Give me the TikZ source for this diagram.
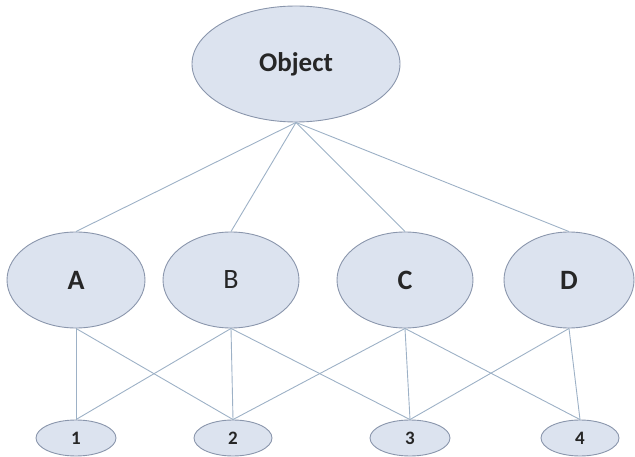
\documentclass[tikz,border=0pt]{standalone}
\usepackage{fontspec}
\setmainfont{Carlito}
\usetikzlibrary{shapes.geometric}
\definecolor{nodefill}{HTML}{DCE3EF}
\definecolor{nodeedge}{HTML}{8A96AC}
\definecolor{linkcol}{HTML}{9DB1C6}
\tikzset{
  ell/.style={ellipse, draw=nodeedge, fill=nodefill, line width=0.9pt, inner sep=0pt, text=black!85},
  link/.style={draw=linkcol, line width=0.9pt},
  bigfont/.style={font=\fontsize{27}{30}\selectfont\bfseries},
  midfont/.style={font=\fontsize{28}{32}\selectfont\bfseries},
  midfontr/.style={font=\fontsize{28}{32}\selectfont},
  smallfont/.style={font=\fontsize{19}{22}\selectfont\bfseries},
}
\begin{document}
\begin{tikzpicture}[x=1pt,y=-1pt]
\useasboundingbox (0,0) rectangle (635,457);
\node[ell, bigfont, minimum width=208pt, minimum height=116pt] (obj) at (296,64) {Object};
\node[ell, midfont, minimum width=138pt, minimum height=96pt] (A) at (76,280) {A};
\node[ell, midfontr, minimum width=136pt, minimum height=96pt] (B) at (231,280) {B};
\node[ell, midfont, minimum width=136pt, minimum height=96pt] (C) at (405,280) {C};
\node[ell, midfont, minimum width=130pt, minimum height=96pt] (D) at (569,280) {D};
\node[ell, smallfont, minimum width=80pt, minimum height=36pt] (n1) at (76,438) {1};
\node[ell, smallfont, minimum width=78pt, minimum height=36pt] (n2) at (233,438) {2};
\node[ell, smallfont, minimum width=80pt, minimum height=36pt] (n3) at (410,438) {3};
\node[ell, smallfont, minimum width=78pt, minimum height=36pt] (n4) at (580,438) {4};
\foreach \t in {A,B,C,D} \draw[link] (obj.south) -- (\t.north);
\draw[link] (A.south) -- (n1.north);
\draw[link] (A.south) -- (n2.north);
\draw[link] (B.south) -- (n1.north);
\draw[link] (B.south) -- (n2.north);
\draw[link] (B.south) -- (n3.north);
\draw[link] (C.south) -- (n2.north);
\draw[link] (C.south) -- (n3.north);
\draw[link] (C.south) -- (n4.north);
\draw[link] (D.south) -- (n3.north);
\draw[link] (D.south) -- (n4.north);
\end{tikzpicture}
\end{document}
